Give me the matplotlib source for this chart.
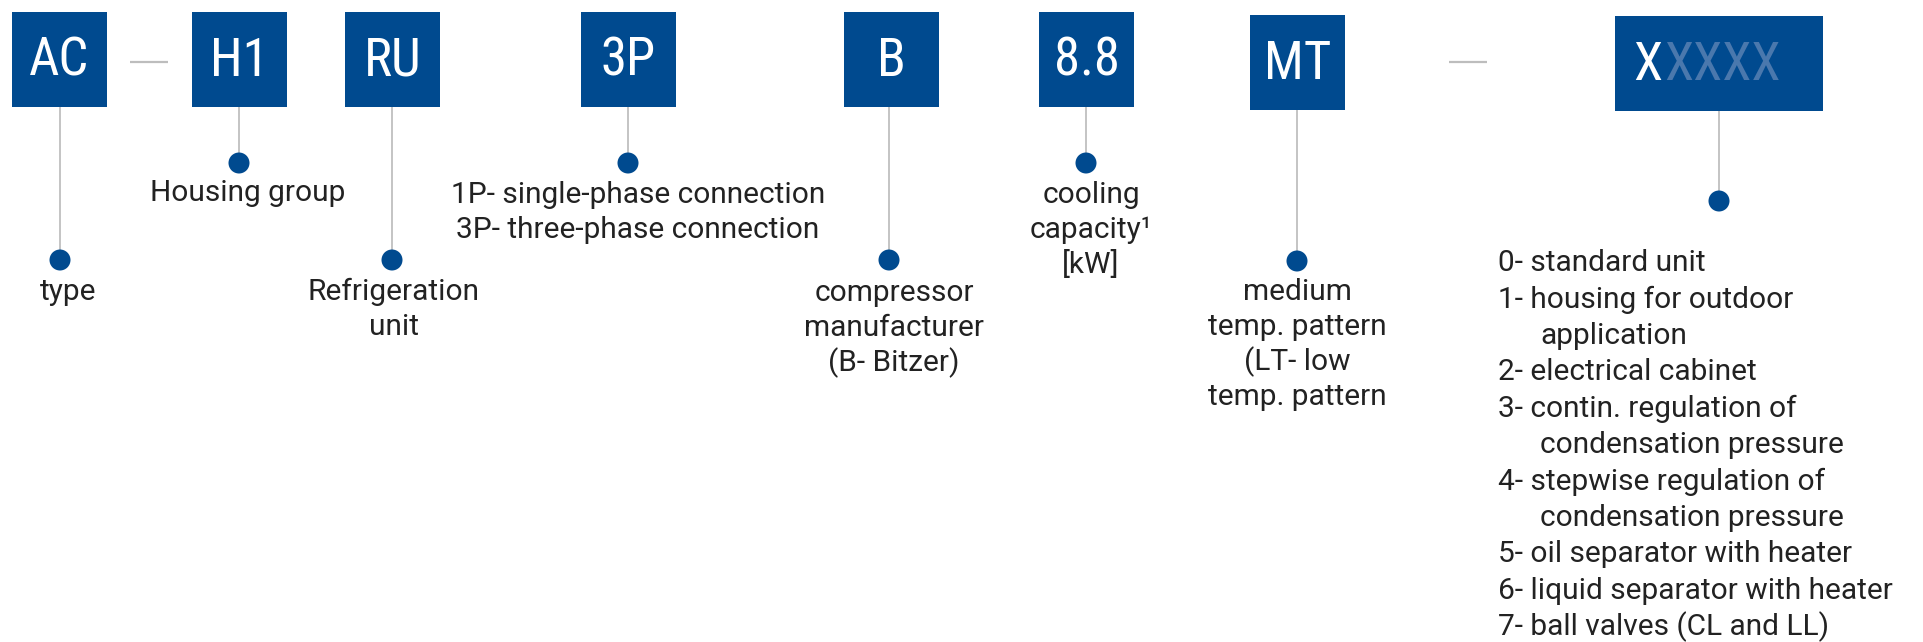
import matplotlib
matplotlib.use("Agg")
import matplotlib.pyplot as plt
from matplotlib.patches import Rectangle, Circle

# type code segments and what they mean
codes = ["AC", "H1", "RU", "3P", "B", "8.8", "MT", "XXXXX"]
descriptions = [
    ["type"],
    ["Housing group"],
    ["Refrigeration", "unit"],
    ["1P- single-phase connection", "3P- three-phase connection"],
    ["compressor", "manufacturer", "(B- Bitzer)"],
    ["cooling", "capacity\u00b9", "[kW]"],
    ["medium", "temp. pattern", "(LT- low", "temp. pattern"],
]
options = [
    ("0- standard unit", False),
    ("1- housing for outdoor", False),
    ("application", True),
    ("2- electrical cabinet", False),
    ("3- contin. regulation of", False),
    ("condensation pressure", True),
    ("4- stepwise regulation of", False),
    ("condensation pressure", True),
    ("5- oil separator with heater", False),
    ("6- liquid separator with heater", False),
    ("7- ball valves (CL and LL)", False),
]

# layout (pixel coordinates, y downwards)
box_left = [12, 192, 345, 581, 844, 1039, 1250, 1615]
box_top = [12, 12, 12, 12, 12, 12, 15, 16]
box_w = [95, 95, 95, 95, 95, 95, 95, 208]
box_h = 95
stem_x = [60, 239, 392, 628, 889, 1086, 1297, 1719]
dot_y = [260, 163, 260, 163, 260, 163, 261, 201]
text_x = [68, 248, 394, 638, 894, 1091, 1297]
text_y = [292, 193, 292, 195, 293, 195, 292]
dashes = [(130, 168), (1449, 1487)]

blue = "#004a8f"
light_blue = "#4a78ad"
grey = "#b4b4b4"
ink = "#222222"
box_fam = ["Roboto Condensed", "Roboto", "DejaVu Sans"]
fam = ["Roboto", "DejaVu Sans"]

W, H = 1923, 642
fig = plt.figure(figsize=(W / 100, H / 100), dpi=100)
ax = fig.add_axes([0, 0, 1, 1])
ax.set_xlim(0, W)
ax.set_ylim(H, 0)
ax.axis("off")

for x0, x1 in dashes:
    ax.plot([x0, x1], [62, 62], color="#bdbdbd", lw=1.6, solid_capstyle="butt")

for i, code in enumerate(codes):
    ax.add_patch(Rectangle((box_left[i], box_top[i]), box_w[i], box_h,
                           facecolor=blue, edgecolor="none", zorder=2))
    ax.plot([stem_x[i], stem_x[i]], [box_top[i] + box_h, dot_y[i]],
            color=grey, lw=1.1, zorder=1)
    ax.add_patch(Circle((stem_x[i], dot_y[i]), 10.5, facecolor=blue,
                        edgecolor="none", zorder=3))
    cy = box_top[i] + box_h / 2 + 2
    if code == "XXXXX":
        ax.text(1633, cy, code[0], color="white", fontsize=38,
                family=box_fam, ha="left", va="center", zorder=4)
        ax.text(1664, cy, code[1:], color=light_blue, fontsize=38,
                family=box_fam, ha="left", va="center", zorder=4)
    else:
        ax.text(box_left[i] + box_w[i] / 2, cy, code, color="white",
                fontsize=38, family=box_fam, ha="center", va="center", zorder=4)

for i, lines in enumerate(descriptions):
    for j, line in enumerate(lines):
        ax.text(text_x[i], text_y[i] + j * 35, line, color=ink, fontsize=21.5,
                family=fam, ha="center", va="center")

for k, (line, indent) in enumerate(options):
    x = 1540 if indent else 1498
    ax.text(x, 263 + k * 36.4, line, color=ink, fontsize=21.5,
            family=fam, ha="left", va="center")

fig.savefig("out.png", dpi=100, facecolor="white")
